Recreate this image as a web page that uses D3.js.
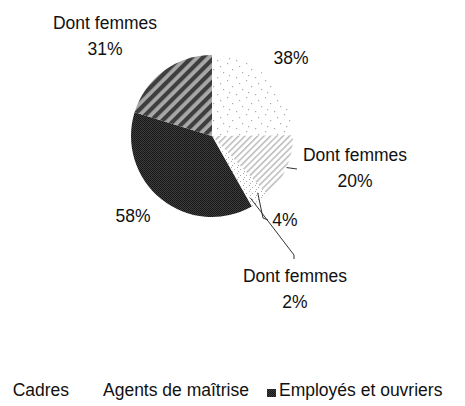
<!DOCTYPE html>
<html>
<head>
<meta charset="utf-8">
<script src="https://cdn.jsdelivr.net/npm/d3@7"></script>
<style>
  html, body { margin: 0; padding: 0; background: #fff; }
  svg { display: block; }
  text { font-family: "Liberation Sans", Arial, sans-serif; font-size: 17.5px; fill: #111; }
</style>
</head>
<body>
<svg id="chart" width="465" height="406"></svg>
<script>
// ---- data ----
const sliceNames = ["Cadres", "Cadres - dont femmes", "Agents de maîtrise", "Agents de maîtrise - dont femmes", "Employés et ouvriers", "Employés et ouvriers - dont femmes"];
const sliceValues = [38, 20, 4, 2, 58, 31];
const sliceLabels = [["38%"], ["Dont femmes", "20%"], ["4%"], ["Dont femmes", "2%"], ["58%"], ["Dont femmes", "31%"]];
const legendNames = ["Cadres", "Agents de maîtrise", "Employés et ouvriers"];

// ---- layout / style ----
const cx = 212, cy = 136, R = 81;
const labelCenters = [[291, 64], [355, 161], [285, 226], [295, 282], [133, 222], [105, 29]];
const leaderBends = [null, [[297, 169]], [[263, 218], [268, 220]], [[294, 255], [294, 259]], null, null];
const fills = ["url(#pDots)", "url(#pLightHatch)", "url(#pDots2)", "url(#pDots2)", "url(#pDark)", "url(#pDarkHatch)"];
const legendItems = [
  { x: 12.7, marker: "#fff" },
  { x: 103, marker: "#fff" },
  { x: 279, marker: "url(#pDark)" }
];

const svg = d3.select("#chart");
const defs = svg.append("defs");

// sparse dots
const pd = defs.append("pattern").attr("id", "pDots").attr("patternUnits", "userSpaceOnUse")
  .attr("width", 19).attr("height", 17);
pd.append("rect").attr("width", 19).attr("height", 17).attr("fill", "#fff");
[[1,1],[11,4],[5,9],[15,12],[8,15],[17,7]].forEach(([x,y]) =>
  pd.append("rect").attr("x", x).attr("y", y).attr("width", 1.2).attr("height", 1.2).attr("fill", "#aaa"));

const pd2 = defs.append("pattern").attr("id", "pDots2").attr("patternUnits", "userSpaceOnUse")
  .attr("width", 6).attr("height", 6);
pd2.append("rect").attr("width", 6).attr("height", 6).attr("fill", "#fff");
[[1,1],[4,3],[2,5]].forEach(([x,y]) =>
  pd2.append("rect").attr("x", x).attr("y", y).attr("width", 1).attr("height", 1).attr("fill", "#aaa"));

// light hatch "/"
const plh = defs.append("pattern").attr("id", "pLightHatch").attr("patternUnits", "userSpaceOnUse")
  .attr("width", 4.5).attr("height", 4.5).attr("patternTransform", "rotate(45)");
plh.append("rect").attr("width", 4.5).attr("height", 4.5).attr("fill", "#fff");
plh.append("rect").attr("x", 0).attr("width", 1.5).attr("height", 4.5).attr("fill", "#bbb");

// dark dithered
const pdk = defs.append("pattern").attr("id", "pDark").attr("patternUnits", "userSpaceOnUse")
  .attr("width", 2).attr("height", 2);
pdk.append("rect").attr("width", 2).attr("height", 2).attr("fill", "#3c3c3c");
pdk.append("rect").attr("width", 1).attr("height", 1).attr("fill", "#151515");
pdk.append("rect").attr("x", 1).attr("y", 1).attr("width", 1).attr("height", 1).attr("fill", "#1c1c1c");

// dark hatch "/"
const pdh = defs.append("pattern").attr("id", "pDarkHatch").attr("patternUnits", "userSpaceOnUse")
  .attr("width", 8).attr("height", 8).attr("patternTransform", "rotate(45)");
pdh.append("rect").attr("width", 8).attr("height", 8).attr("fill", "#a8a8a8");
pdh.append("rect").attr("x", 0).attr("width", 4.2).attr("height", 8).attr("fill", "#3e3e3e");

// ---- pie ----
const pie = d3.pie().sort(null).value(d => d)
  .startAngle(0).endAngle(2 * Math.PI);
const arcs = pie(sliceValues);
const arc = d3.arc().innerRadius(0).outerRadius(R);
const g = svg.append("g").attr("transform", `translate(${cx},${cy})`);
g.selectAll("path.slice").data(arcs).join("path")
  .attr("class", "slice")
  .attr("d", arc)
  .attr("fill", (d, i) => fills[i]);

// leader lines
arcs.forEach((a, i) => {
  const bends = leaderBends[i];
  if (!bends) return;
  const mid = (a.startAngle + a.endAngle) / 2;
  const r0 = i === 1 ? R : R * 0.9;
  const start = [cx + r0 * Math.sin(mid), cy - r0 * Math.cos(mid)];
  const pts = [start].concat(bends);
  svg.append("path")
    .attr("d", d3.line()(pts))
    .attr("fill", "none").attr("stroke", "#333").attr("stroke-width", 1);
});

// labels
sliceLabels.forEach((lines, i) => {
  const [lx, ly] = labelCenters[i];
  const t = svg.append("text").attr("text-anchor", "middle");
  lines.forEach((s, k) => {
    t.append("tspan").attr("x", lx).attr("y", ly + k * 26).text(s);
  });
});

// legend
legendItems.forEach((it, i) => {
  svg.append("rect").attr("x", it.x - 12).attr("y", 389).attr("width", 9).attr("height", 8)
    .attr("fill", it.marker);
  svg.append("text").attr("x", it.x).attr("y", 396).text(legendNames[i]);
});
</script>
</body>
</html>
